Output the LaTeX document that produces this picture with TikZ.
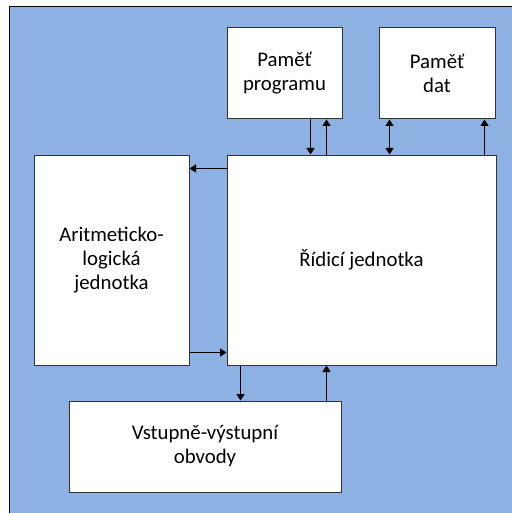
\documentclass[tikz,border=0pt]{standalone}
\usepackage{fontspec}
\setmainfont{Carlito}
\usetikzlibrary{arrows.meta}

\begin{document}
\begin{tikzpicture}[
  x=1pt,y=-1pt,
  font=\fontsize{20.8}{24}\selectfont,
  >={Triangle[length=6.5pt,width=8pt]},
  block/.style={draw=black!80,line width=1pt,fill=white,align=center,inner sep=2pt},
  bus/.style={->,line width=1.7pt,black}
]
  \useasboundingbox (0,0) rectangle (511,513);
  \fill[fill={rgb,255:red,141;green,177;blue,226},draw=black,line width=1pt] (9,7) rectangle (520,520);

  \node[block,minimum width=115pt,minimum height=91pt] (prog) at (284.5,73.5) {Paměť\\programu};
  \node[block,minimum width=116pt,minimum height=91pt] (data) at (437,73.5) {Paměť\\dat};
  \node[block,minimum width=269pt,minimum height=210pt] (ctrl) at (361.5,260) {Řídicí jednotka};
  \node[block,minimum width=155pt,minimum height=210pt] (alu) at (111.5,260) {Aritmeticko-\\logická\\jednotka};
  \node[block,minimum width=272pt,minimum height=91pt] (io) at (205,446.5) {Vstupně-výstupní\\obvody};

  % memories <-> control unit
  \draw[bus] ([xshift=84pt]prog.south west) -- ([xshift=84pt]prog.south west |- ctrl.north);
  \draw[bus] ([xshift=100pt]prog.south west |- ctrl.north) -- ([xshift=100pt]prog.south west);
  \draw[bus,<->] ([xshift=11pt]data.south west) -- ([xshift=11pt]data.south west |- ctrl.north);
  \draw[bus] ([xshift=106pt]data.south west |- ctrl.north) -- ([xshift=106pt]data.south west);

  % ALU <-> control unit
  \draw[bus] ([yshift=-14pt]ctrl.north west) -- ([yshift=-14pt]alu.north east);
  \draw[bus] ([yshift=13pt]alu.south east) -- ([yshift=13pt]ctrl.south west);

  % control unit <-> I/O
  \draw[bus] ([xshift=14pt]ctrl.south west) -- ([xshift=14pt]ctrl.south west |- io.north);
  \draw[bus] ([xshift=100pt]ctrl.south west |- io.north) -- ([xshift=100pt]ctrl.south west);
\end{tikzpicture}
\end{document}
